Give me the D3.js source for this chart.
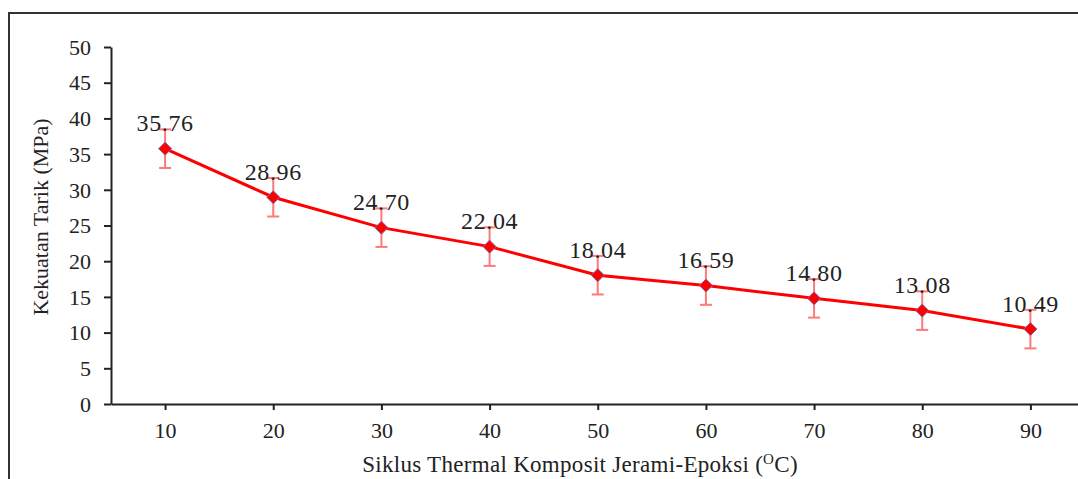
<!DOCTYPE html>
<html><head><meta charset="utf-8">
<script src="https://cdn.jsdelivr.net/npm/d3@7"></script>
<style>body{margin:0;background:#fff}svg{display:block}</style>
</head><body>
<svg id="c" width="1078" height="479"></svg>
<script>
const cycles = [10, 20, 30, 40, 50, 60, 70, 80, 90];
const strength = [35.76, 28.96, 24.70, 22.04, 18.04, 16.59, 14.80, 13.08, 10.49];
const errors = [2.7, 2.7, 2.7, 2.7, 2.7, 2.7, 2.7, 2.7, 2.7];
const labels = ["35.76","28.96","24.70","22.04","18.04","16.59","14.80","13.08","10.49"];
const yTicks = [0,5,10,15,20,25,30,35,40,45,50];

const svg = d3.select("#c");
const font = "'Liberation Serif','Times New Roman',serif";

// frame
svg.append("path").attr("d","M9,479 V13 H1078").attr("fill","none").attr("stroke","#333").attr("stroke-width",2);

const x = d3.scaleLinear().domain([5, 94.4]).range([111, 1078]);
const y = d3.scaleLinear().domain([0, 50]).range([404, 47]);

const gx = svg.append("g").attr("transform","translate(0,404)")
  .call(d3.axisBottom(x).tickValues(cycles).tickSize(6).tickSizeOuter(0).tickPadding(12));
const gy = svg.append("g").attr("transform","translate(111,0)")
  .call(d3.axisLeft(y).tickValues(yTicks).tickSize(7).tickSizeOuter(0).tickPadding(13));
[gx, gy].forEach(g => {
  g.select(".domain").attr("stroke","#222").attr("stroke-width",2);
  g.selectAll(".tick line").attr("stroke","#222").attr("stroke-width",2);
  g.selectAll(".tick text").attr("font-family",font).attr("font-size",22).attr("fill","#222");
});
gy.selectAll(".tick text").attr("dy","0.33em");

// axis titles
const xt = svg.append("text").attr("x",580).attr("y",472).attr("text-anchor","middle")
  .attr("font-family",font).attr("font-size",23).attr("fill","#222").attr("letter-spacing",0.3);
xt.append("tspan").text("Siklus Thermal Komposit Jerami-Epoksi (");
xt.append("tspan").attr("font-size",15).attr("dy",-8).text("O");
xt.append("tspan").attr("dy",8).text("C)");

svg.append("text").attr("transform","translate(48,217) rotate(-90)").attr("text-anchor","middle")
  .attr("font-family",font).attr("font-size",22).attr("fill","#222").text("Kekuatan Tarik (MPa)");

// line
const line = d3.line().x((d,i)=>x(cycles[i])).y(d=>y(d));
svg.append("path").datum(strength).attr("d",line).attr("fill","none").attr("stroke","#ff0000").attr("stroke-width",3);

// error bars
const eb = svg.append("g").attr("stroke","#ff6b6b").attr("stroke-width",2).attr("opacity",0.9);
strength.forEach((v,i)=>{
  const cx = x(cycles[i]);
  eb.append("line").attr("x1",cx).attr("x2",cx).attr("y1",y(v+errors[i])).attr("y2",y(v-errors[i]));
  eb.append("line").attr("x1",cx-6).attr("x2",cx+6).attr("y1",y(v+errors[i])).attr("y2",y(v+errors[i]));
  eb.append("line").attr("x1",cx-6).attr("x2",cx+6).attr("y1",y(v-errors[i])).attr("y2",y(v-errors[i]));
});

// markers
svg.append("g").selectAll("path").data(strength).join("path")
  .attr("transform",(d,i)=>`translate(${x(cycles[i])},${y(d)})`)
  .attr("d","M0,-6.5 L6.5,0 L0,6.5 L-6.5,0 Z")
  .attr("fill","#ff0000").attr("stroke","#7a6aa8").attr("stroke-width",1);

// value labels
svg.append("g").selectAll("text").data(strength).join("text")
  .attr("x",(d,i)=>x(cycles[i]))
  .attr("y",(d,i)=>y(d+errors[i])+2)
  .attr("text-anchor","middle").attr("font-family",font).attr("font-size",24).attr("letter-spacing",0.6).attr("fill","#222")
  .text((d,i)=>labels[i]);
</script>
</body></html>
